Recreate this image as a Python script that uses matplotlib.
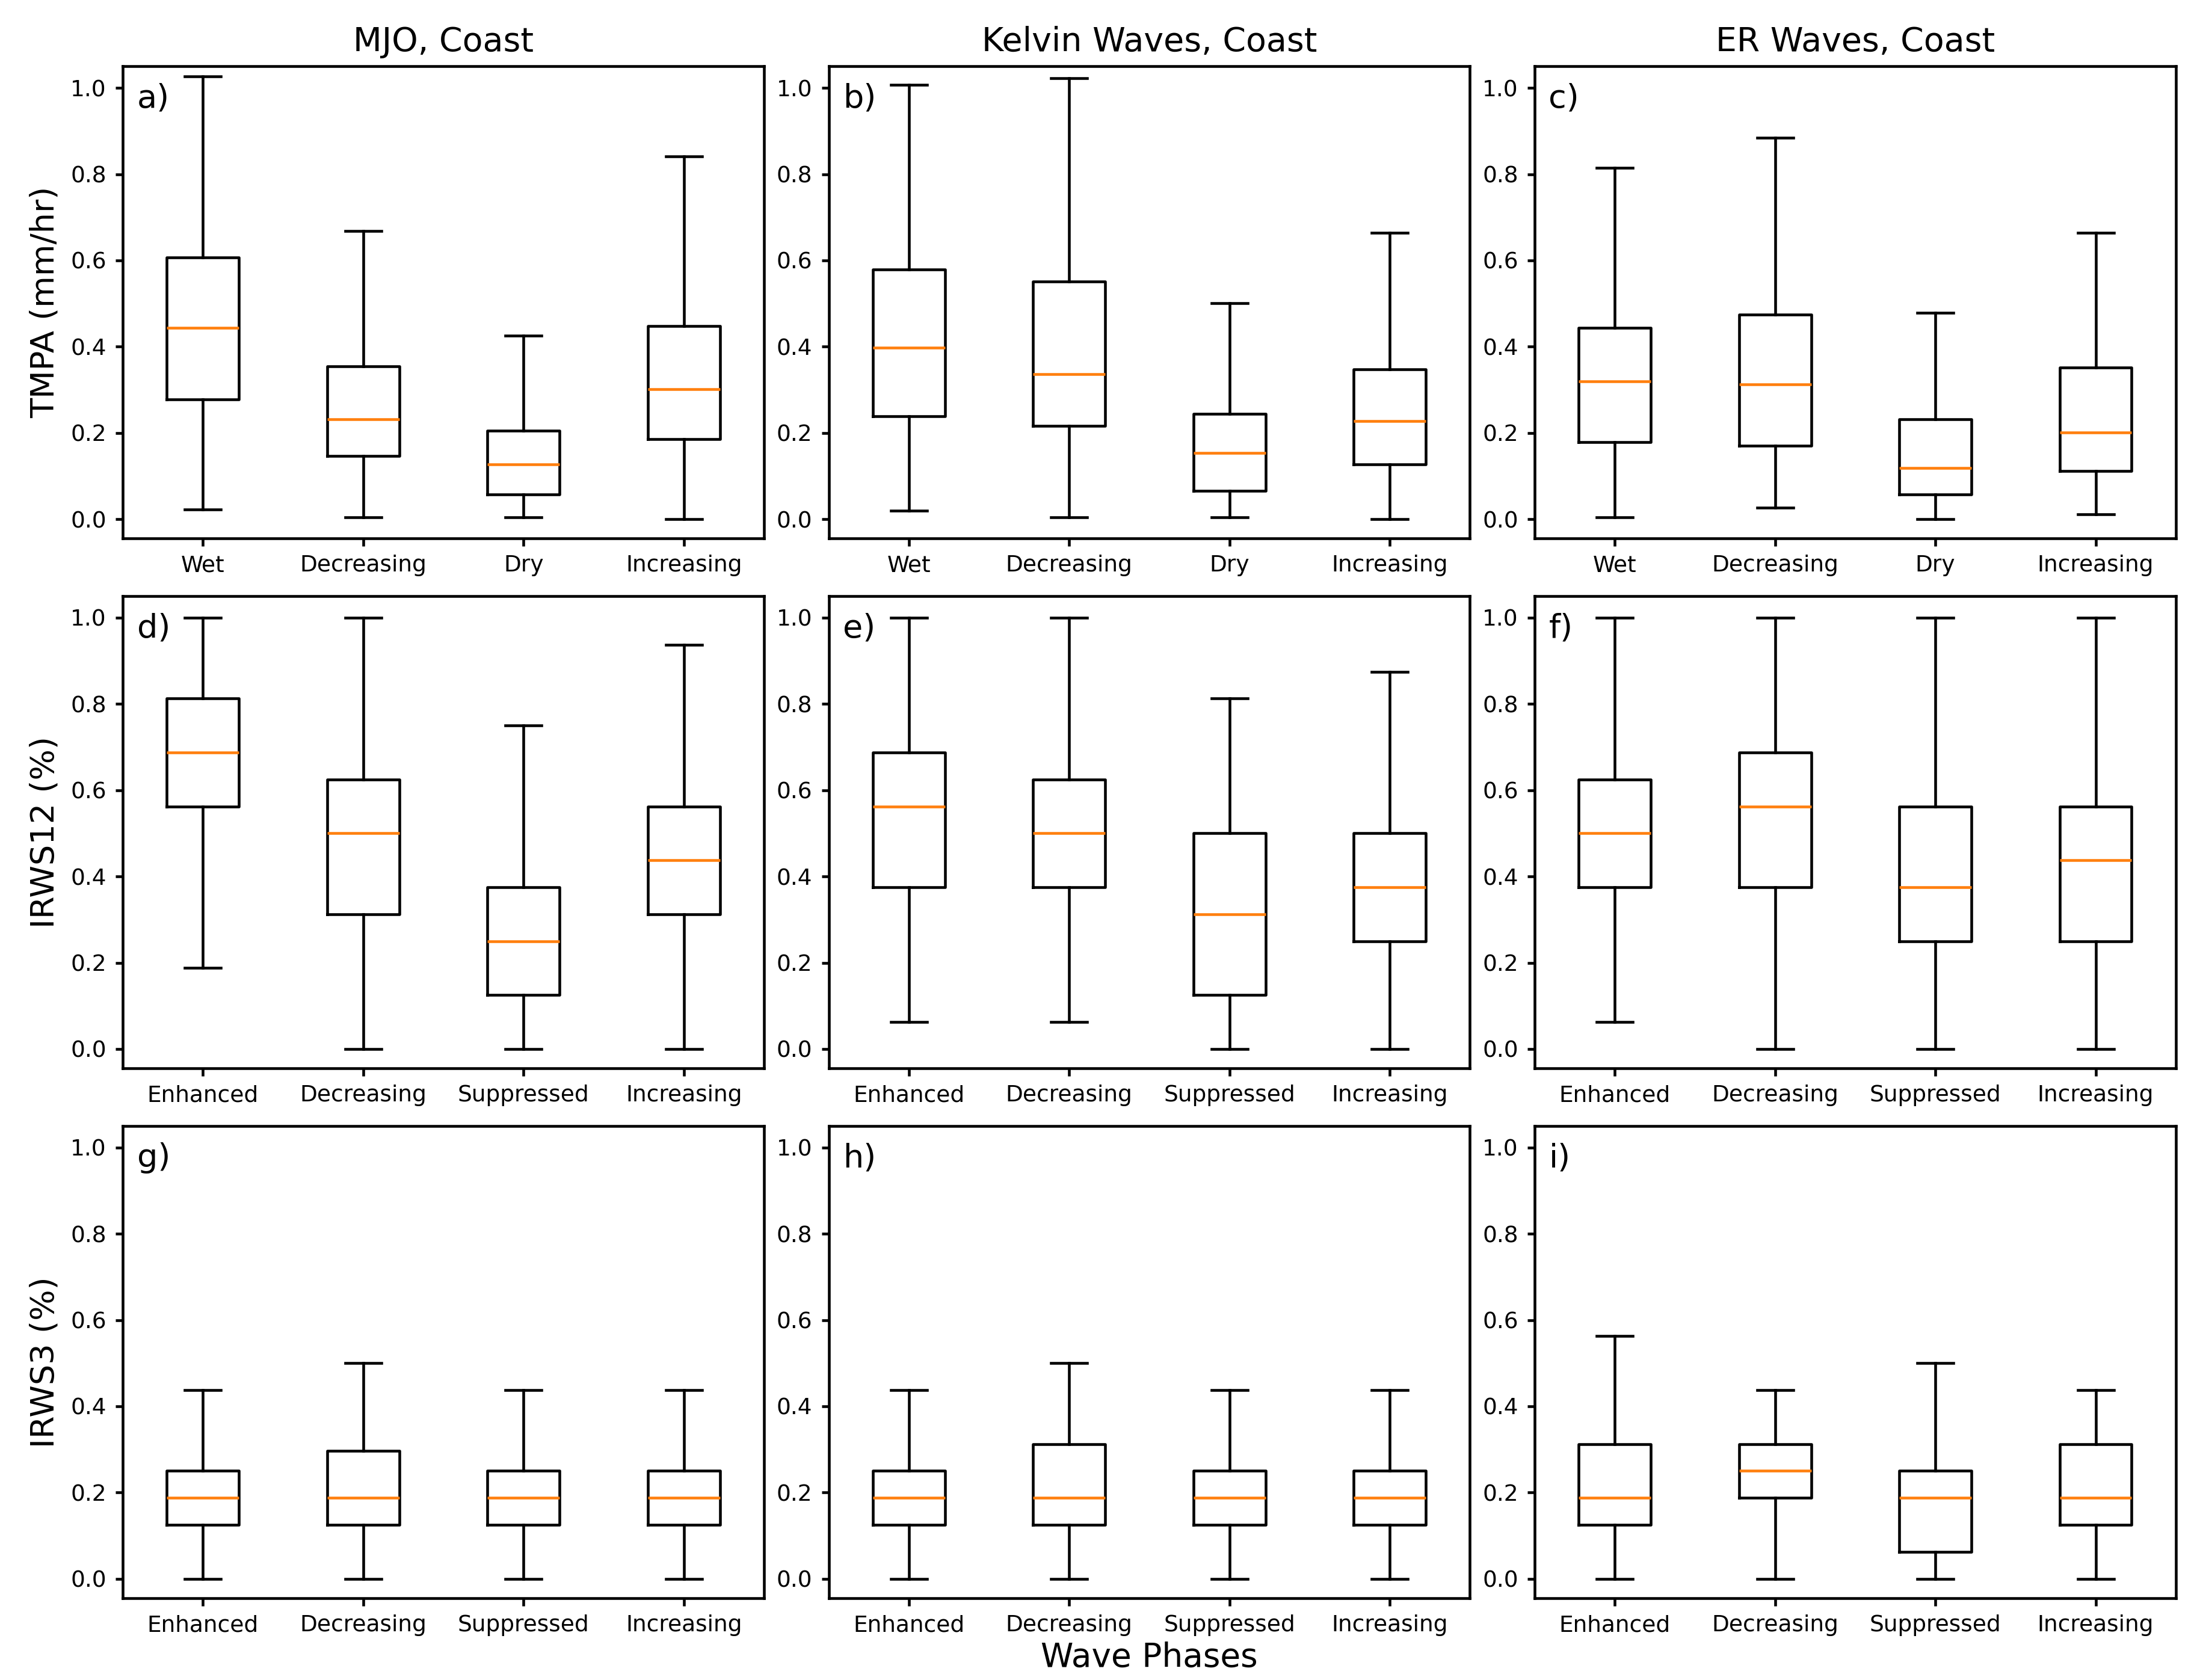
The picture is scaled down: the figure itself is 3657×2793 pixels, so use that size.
import matplotlib
matplotlib.use('Agg')
import matplotlib.pyplot as plt

# wave types (columns) and variables (rows)
col_titles = ['MJO, Coast', 'Kelvin Waves, Coast', 'ER Waves, Coast']
row_labels = ['TMPA (mm/hr)', 'IRWS12 (%)', 'IRWS3 (%)']
panel_tags = ['a)', 'b)', 'c)', 'd)', 'e)', 'f)', 'g)', 'h)', 'i)']
phases_tmpa = ['Wet', 'Decreasing', 'Dry', 'Increasing']
phases_irws = ['Enhanced', 'Decreasing', 'Suppressed', 'Increasing']

# box stats per panel: whislo, q1, med, q3, whishi (one entry per phase)
# TMPA
a_lo = [0.023, 0.004, 0.004, 0.0]
a_q1 = [0.278, 0.146, 0.058, 0.186]
a_med = [0.443, 0.231, 0.127, 0.301]
a_q3 = [0.607, 0.355, 0.205, 0.448]
a_hi = [1.027, 0.668, 0.425, 0.841]

b_lo = [0.019, 0.004, 0.004, 0.0]
b_q1 = [0.239, 0.216, 0.065, 0.127]
b_med = [0.397, 0.336, 0.154, 0.227]
b_q3 = [0.579, 0.551, 0.244, 0.347]
b_hi = [1.007, 1.023, 0.501, 0.664]

c_lo = [0.004, 0.027, 0.0, 0.011]
c_q1 = [0.178, 0.170, 0.058, 0.112]
c_med = [0.320, 0.312, 0.119, 0.201]
c_q3 = [0.444, 0.475, 0.231, 0.351]
c_hi = [0.815, 0.884, 0.479, 0.664]

# IRWS12
d_lo = [0.1875, 0.0, 0.0, 0.0]
d_q1 = [0.5625, 0.3125, 0.125, 0.3125]
d_med = [0.6875, 0.5, 0.25, 0.4375]
d_q3 = [0.8125, 0.625, 0.375, 0.5625]
d_hi = [1.0, 1.0, 0.75, 0.9375]

e_lo = [0.0625, 0.0625, 0.0, 0.0]
e_q1 = [0.375, 0.375, 0.125, 0.25]
e_med = [0.5625, 0.5, 0.3125, 0.375]
e_q3 = [0.6875, 0.625, 0.5, 0.5]
e_hi = [1.0, 1.0, 0.8125, 0.875]

f_lo = [0.0625, 0.0, 0.0, 0.0]
f_q1 = [0.375, 0.375, 0.25, 0.25]
f_med = [0.5, 0.5625, 0.375, 0.4375]
f_q3 = [0.625, 0.6875, 0.5625, 0.5625]
f_hi = [1.0, 1.0, 1.0, 1.0]

# IRWS3
g_lo = [0.0, 0.0, 0.0, 0.0]
g_q1 = [0.125, 0.125, 0.125, 0.125]
g_med = [0.1875, 0.1875, 0.1875, 0.1875]
g_q3 = [0.25, 0.297, 0.25, 0.25]
g_hi = [0.4375, 0.5, 0.4375, 0.4375]

h_lo = [0.0, 0.0, 0.0, 0.0]
h_q1 = [0.125, 0.125, 0.125, 0.125]
h_med = [0.1875, 0.1875, 0.1875, 0.1875]
h_q3 = [0.25, 0.3125, 0.25, 0.25]
h_hi = [0.4375, 0.5, 0.4375, 0.4375]

i_lo = [0.0, 0.0, 0.0, 0.0]
i_q1 = [0.125, 0.1875, 0.0625, 0.125]
i_med = [0.1875, 0.25, 0.1875, 0.1875]
i_q3 = [0.3125, 0.3125, 0.25, 0.3125]
i_hi = [0.5625, 0.4375, 0.5, 0.4375]

panels = [
    (a_lo, a_q1, a_med, a_q3, a_hi),
    (b_lo, b_q1, b_med, b_q3, b_hi),
    (c_lo, c_q1, c_med, c_q3, c_hi),
    (d_lo, d_q1, d_med, d_q3, d_hi),
    (e_lo, e_q1, e_med, e_q3, e_hi),
    (f_lo, f_q1, f_med, f_q3, f_hi),
    (g_lo, g_q1, g_med, g_q3, g_hi),
    (h_lo, h_q1, h_med, h_q3, h_hi),
    (i_lo, i_q1, i_med, i_q3, i_hi),
]


def make_stats(lo, q1, med, q3, hi, names):
    out = []
    for k in range(len(names)):
        out.append({'label': names[k], 'whislo': lo[k], 'q1': q1[k], 'med': med[k],
                    'q3': q3[k], 'whishi': hi[k], 'fliers': []})
    return out


plt.rcParams['font.family'] = 'DejaVu Sans'
fig, axes = plt.subplots(3, 3, figsize=(3657 / 300, 2793 / 300), dpi=300)
fig.subplots_adjust(left=0.0558, right=0.989, top=0.9605, bottom=0.0487,
                    wspace=0.101, hspace=0.122)

lw = 1.1
for n, ax in enumerate(axes.flat):
    r, c = divmod(n, 3)
    names = phases_tmpa if r == 0 else phases_irws
    stats = make_stats(*panels[n], names)
    ax.bxp(stats, widths=0.45, showfliers=False,
           boxprops=dict(color='black', linewidth=lw),
           whiskerprops=dict(color='black', linewidth=lw),
           capprops=dict(color='black', linewidth=lw),
           medianprops=dict(color='#ff7f0e', linewidth=lw))
    ax.set_xlim(0.5, 4.5)
    ax.set_ylim(-0.045, 1.05)
    ax.set_yticks([0.0, 0.2, 0.4, 0.6, 0.8, 1.0])
    ax.tick_params(labelsize=9, length=3, width=lw)
    for s in ax.spines.values():
        s.set_linewidth(lw)
    ax.text(0.022, 0.965, panel_tags[n], transform=ax.transAxes,
            ha='left', va='top', fontsize=13)
    if r == 0:
        ax.set_title(col_titles[c], fontsize=13.3, pad=6)
    if c == 0:
        ax.set_ylabel(row_labels[r], fontsize=13)

axes[2, 1].set_xlabel('Wave Phases', fontsize=13.2, labelpad=2)

plt.savefig('out.png', dpi=300)
